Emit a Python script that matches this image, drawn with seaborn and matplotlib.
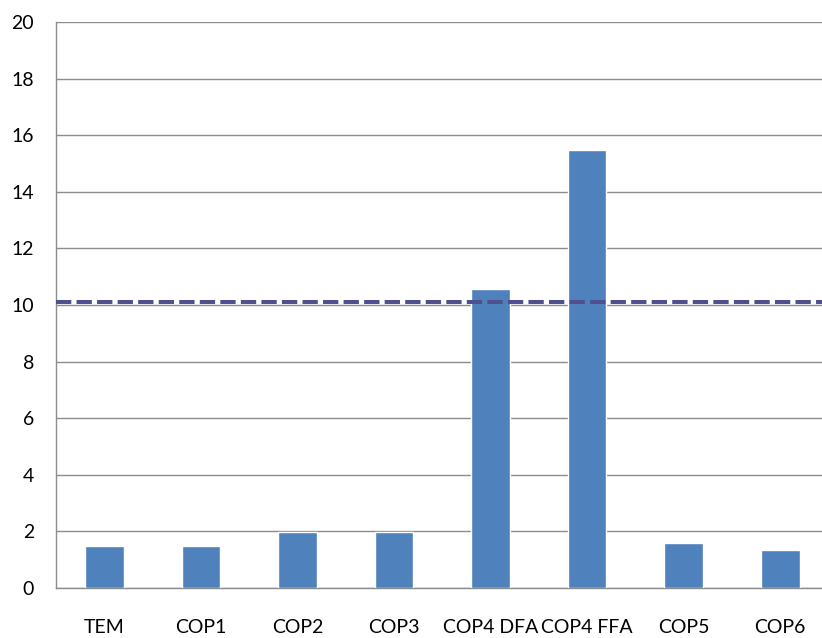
import matplotlib
matplotlib.use("Agg")
import matplotlib.pyplot as plt
import seaborn as sns
import pandas as pd
from matplotlib.ticker import FixedLocator

categories = ["TEM", "COP1", "COP2", "COP3", "COP4 DFA", "COP4 FFA", "COP5", "COP6"]
values = [1.47, 1.47, 1.97, 1.97, 10.58, 15.47, 1.59, 1.35]
reference_value = 10.12
y_ticks = [0, 2, 4, 6, 8, 10, 12, 14, 16, 18, 20]

df = pd.DataFrame({"category": categories, "value": values})

sns.set_style("white")
plt.rcParams["font.family"] = ["Lato", "DejaVu Sans"]

fig = plt.figure(figsize=(8.22, 6.38), dpi=100)
ax = fig.add_axes([56 / 822, 50 / 638, (828.5 - 56) / 822, 566 / 638])

sns.barplot(data=df, x="category", y="value", color="#4F81BD", saturation=1,
            width=0.4, ax=ax, zorder=3)

ax.axhline(reference_value, color="#50508F", lw=2.9, linestyle=(0, (3.8, 1.3)), zorder=4)

ax.set_ylim(0, 20)
ax.set_xlim(-0.5, len(categories) - 0.5)
ax.set_yticks(y_ticks)
ax.set_yticklabels([str(t) for t in y_ticks], fontsize=14, color="black")
ax.yaxis.grid(True, color="#8C8C8C", lw=1.0, zorder=0)
ax.set_axisbelow(True)

ax.set_xlabel("")
ax.set_ylabel("")
ax.set_xticks(range(len(categories)))
ax.set_xticklabels(categories, fontsize=14, color="black")
ax.tick_params(axis="x", which="major", length=0, pad=22)
ax.xaxis.set_minor_locator(FixedLocator([i - 0.5 for i in range(len(categories) + 1)]))
ax.tick_params(axis="x", which="minor", length=6.5, width=1, color="#8C8C8C", direction="out")
ax.tick_params(axis="y", which="major", length=5.8, width=1, color="#8C8C8C", direction="out", pad=10)

for s in ["top", "right"]:
    ax.spines[s].set_visible(False)
for s in ["left", "bottom"]:
    ax.spines[s].set_color("#8C8C8C")
    ax.spines[s].set_linewidth(1.0)

fig.savefig("out.png", dpi=100)
